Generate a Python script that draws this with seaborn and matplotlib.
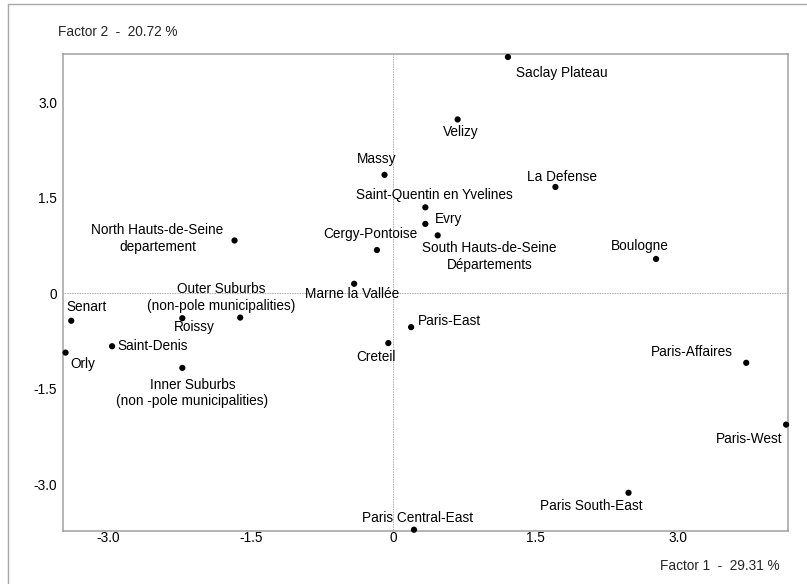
import matplotlib
matplotlib.use("Agg")
import matplotlib.pyplot as plt
from matplotlib.lines import Line2D
import seaborn as sns
import pandas as pd

# factor scores
names = ["Saclay Plateau", "Velizy", "La Defense", "Saint-Quentin en Yvelines", "Evry",
         "South Hauts-de-Seine\nDépartements", "Boulogne", "Massy", "Cergy-Pontoise",
         "Marne la Vallée", "North Hauts-de-Seine\ndepartement", "Senart", "Roissy",
         "Outer Suburbs\n(non-pole municipalities)", "Saint-Denis", "Orly",
         "Inner Suburbs\n(non -pole municipalities)", "Creteil", "Paris-East",
         "Paris-Affaires", "Paris-West", "Paris South-East", "Paris Central-East"]
factor1 = [1.21, 0.68, 1.71, 0.34, 0.34, 0.47, 2.77, -0.09, -0.17, -0.41, -1.67, -3.39, -2.22,
           -1.61, -2.96, -3.45, -2.22, -0.05, 0.19, 3.72, 4.14, 2.48, 0.22]
factor2 = [3.71, 2.73, 1.67, 1.35, 1.09, 0.91, 0.54, 1.86, 0.68, 0.15, 0.83, -0.43, -0.39,
           -0.38, -0.83, -0.93, -1.17, -0.78, -0.53, -1.09, -2.06, -3.13, -3.71]
tick_values = [-3.0, -1.5, 0, 1.5, 3.0]
tick_labels = ["-3.0", "-1.5", "0", "1.5", "3.0"]
x_title = "Factor 1  -  29.31 %"
y_title = "Factor 2  -  20.72 %"

# label offsets in pixels (dx right, dy down)
label_offsets = [(54, 16), (3, 13), (7, -10), (9, -12), (23, -5), (52, 21), (-16, -13),
                 (-8, -16), (-7, -16), (-2, 10), (-77, -2), (15, -14), (12, 9), (-19, -20),
                 (41, 0), (17, 11), (10, 25), (-12, 14), (38, -6), (-54, -11), (-37, 14),
                 (-37, 13), (4, -12)]

df = pd.DataFrame({"name": names, "f1": factor1, "f2": factor2})

sns.set_style("white")
plt.rcParams["font.family"] = ["Liberation Sans", "DejaVu Sans"]
fs = 9.8

fig = plt.figure(figsize=(8.07, 5.84), dpi=100)
ax = fig.add_axes([62.7 / 807, 1 - 531 / 584, (788 - 62.7) / 807, (531 - 54) / 584])

ax.axhline(0, color="#888888", lw=0.6, ls=(0, (1, 1)), zorder=1)
ax.axvline(0, color="#888888", lw=0.6, ls=(0, (1, 1)), zorder=1)

sns.scatterplot(data=df, x="f1", y="f2", ax=ax, color="black", s=20,
                edgecolor="none", zorder=3, clip_on=False)

for (nm, x, y), (dx, dy) in zip(zip(names, factor1, factor2), label_offsets):
    ax.annotate(nm, (x, y), xytext=(dx, -dy), textcoords="offset pixels",
                ha="center", va="center", fontsize=fs, color="black",
                multialignment="center", linespacing=1.25)

ax.set_xlim(-3.48, 4.16)
ax.set_ylim(-3.73, 3.757)
ax.set_xticks(tick_values)
ax.set_xticklabels(tick_labels)
ax.set_yticks(tick_values)
ax.set_yticklabels(tick_labels)
ax.tick_params(axis="both", length=2, width=0.8, color="#999999", labelsize=fs,
               labelcolor="black", direction="out")
ax.tick_params(axis="x", pad=0, length=0)
ax.tick_params(axis="y", pad=2)
ax.set_xlabel("")
ax.set_ylabel("")
for sp in ax.spines.values():
    sp.set_visible(True)
    sp.set_color("#a0a0a0")
    sp.set_linewidth(1.1)

fig.text(58 / 807, 1 - 32 / 584, y_title, ha="left", va="center", fontsize=fs)
fig.text(780 / 807, 1 - 566 / 584, x_title, ha="right", va="center", fontsize=fs)

# outer frame (top and left edges visible)
fig.add_artist(Line2D([8 / 807, 1], [1 - 4 / 584, 1 - 4 / 584], color="#a8a8a8", lw=1.0,
                      transform=fig.transFigure))
fig.add_artist(Line2D([8 / 807, 8 / 807], [0, 1 - 4 / 584], color="#a8a8a8", lw=1.0,
                      transform=fig.transFigure))

fig.savefig("out.png", dpi=100)
